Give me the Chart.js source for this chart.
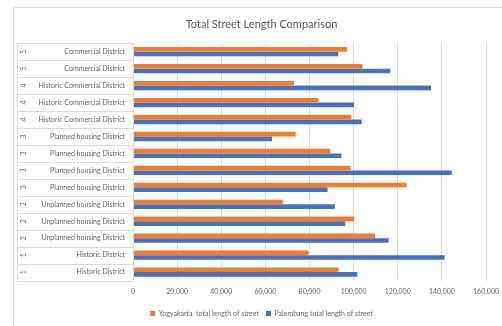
<!DOCTYPE html>
<html>
<head>
<meta charset="utf-8">
<script src="https://cdn.jsdelivr.net/npm/chart.js@4.4.1/dist/chart.umd.min.js"></script>
<style>
  html, body { margin: 0; padding: 0; background: #fff; overflow: hidden; }
  #box { position: absolute; left: 13px; top: 7px; width: 492px; height: 319px;
         border-left: 1px solid #d9d9d9; border-top: 1px solid #d9d9d9; }
  #chart { display: block; }
</style>
</head>
<body>
<div id="box"><canvas id="chart" width="492" height="319"></canvas></div>
<script>
// category labels, top to bottom
const districts = [
  'Commercial District', 'Commercial District',
  'Historic Commercial District', 'Historic Commercial District', 'Historic Commercial District',
  'Planned housing District', 'Planned housing District', 'Planned housing District', 'Planned housing District',
  'Unplanned housing District', 'Unplanned housing District', 'Unplanned housing District',
  'Historic District', 'Historic District'
];
const groupNumbers = ['5', '5', '4', '4', '4', '3', '3', '3', '3', '2', '2', '2', '1', '1'];

// total street length (m)
const yogyakarta = [97000, 104000, 73000, 84000, 99000, 73700, 89400, 98600, 124000, 67900, 100200, 109700, 79600, 93100];
const palembang  = [93000, 116600, 135100, 100200, 103700, 63000, 94500, 144500, 88200, 91500, 96200, 115900, 141200, 101700];

const gray = '#666666';
const lineGray = '#d9d9d9';
const smallFont = { family: 'Lato', size: 7 };

// draws the table-like lines around the two-level category labels
const tableLines = {
  id: 'tableLines',
  afterDraw(chart) {
    const ctx = chart.ctx;
    const y = chart.scales.y;
    const area = chart.chartArea;
    const step = (area.bottom - area.top) / districts.length;
    const left = Math.round(chart.scales.yn.left) + 0.5;
    const right = Math.round(area.left) + 0.5;
    ctx.save();
    ctx.strokeStyle = lineGray;
    ctx.lineWidth = 1;
    ctx.beginPath();
    for (let i = 0; i <= districts.length; i++) {
      const py = Math.round(y.getPixelForTick(Math.min(i, districts.length - 1)) + (i === districts.length ? step / 2 : -step / 2)) + 0.5;
      ctx.moveTo(left, py);
      ctx.lineTo(right, py);
    }
    ctx.moveTo(left, area.top);
    ctx.lineTo(left, area.bottom);
    ctx.moveTo(right, area.top);
    ctx.lineTo(right, area.bottom);
    ctx.stroke();
    ctx.restore();
  }
};

new Chart(document.getElementById('chart'), {
  type: 'bar',
  data: {
    labels: districts,
    datasets: [
      { label: 'Yogyakarta  total length of street', data: yogyakarta, backgroundColor: '#ED7D31' },
      { label: 'Palembang total length of street', data: palembang, backgroundColor: '#4472C4' }
    ]
  },
  options: {
    indexAxis: 'y',
    responsive: false,
    animation: false,
    categoryPercentage: 0.55,
    barPercentage: 1,
    layout: { padding: { left: 3, right: 0, top: 0, bottom: 0 } },
    plugins: {
      title: {
        display: true,
        text: 'Total Street Length Comparison',
        color: '#595959',
        font: { family: 'Lato', size: 11, weight: 'normal' },
        padding: { top: 10, bottom: 12 }
      },
      legend: {
        position: 'bottom',
        labels: { boxWidth: 5, boxHeight: 5, color: gray, font: smallFont, padding: 7 }
      },
      tooltip: { enabled: false }
    },
    scales: {
      x: {
        min: 0,
        max: 160000,
        ticks: { stepSize: 20000, color: gray, font: smallFont, padding: 7,
                 callback: v => v.toLocaleString('en-US') },
        grid: { color: lineGray, drawTicks: false },
        border: { display: false }
      },
      y: {
        position: 'left',
        weight: 0,
        grid: { display: false, drawTicks: false },
        border: { display: false },
        ticks: { color: gray, font: smallFont, padding: 8 },
        afterFit: s => { s.width = 100; }
      },
      yn: {
        type: 'category',
        position: 'left',
        weight: 1,
        labels: groupNumbers,
        offset: true,
        grid: { display: false, drawTicks: false },
        border: { display: false },
        ticks: { color: gray, font: smallFont, minRotation: 90, maxRotation: 90, crossAlign: 'center', padding: 7 },
        afterFit: s => { s.width = 16; }
      },
      // empty right-hand strip, keeps the plot clear of the window edge
      yr: {
        type: 'category',
        position: 'right',
        grid: { display: false, drawTicks: false },
        border: { display: false },
        ticks: { display: false },
        afterFit: s => { s.width = 19; }
      }
    }
  },
  plugins: [tableLines]
});
</script>
</body>
</html>
